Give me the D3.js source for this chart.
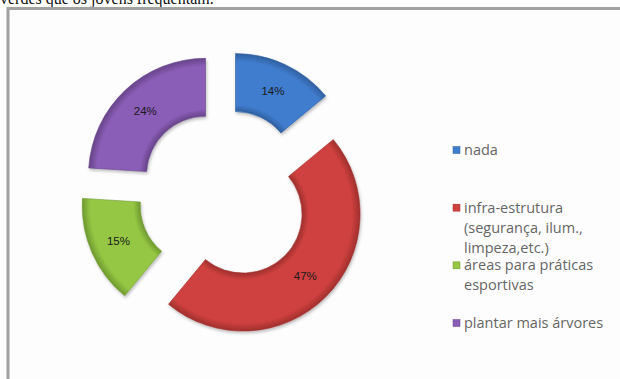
<!DOCTYPE html>
<html>
<head>
<meta charset="utf-8">
<script src="https://cdn.jsdelivr.net/npm/d3@7"></script>
<style>
  body { margin: 0; background: #fff; }
  svg { display: block; }
</style>
</head>
<body>
<script>
// dados do grafico
var categories = ["nada", "infra-estrutura (segurança, ilum., limpeza,etc.)", "áreas para práticas esportivas", "plantar mais árvores"];
var values = [14, 47, 15, 24];
var legendLines = [
    ["nada"],
    ["infra-estrutura", "(segurança, ilum.,", "limpeza,etc.)"],
    ["áreas para práticas", "esportivas"],
    ["plantar mais árvores"]
];
var colors = ["#417dcf", "#cf413f", "#95c744", "#8a5db6"];
var darks = ["#2f5f9f", "#a02f2d", "#6f9930", "#674489"];

var width = 620, height = 379;
var cx = 224, cy = 195, outerR = 117, innerR = 59, explode = 27;

var svg = d3.select("body").append("svg")
    .attr("width", width)
    .attr("height", height);

// texto cortado do documento, em cima
svg.append("text")
    .attr("x", 0)
    .attr("y", 4)
    .style("font-family", "'Liberation Serif', serif")
    .style("font-size", "16px")
    .attr("fill", "#111")
    .text("verdes que os jovens frequentam.");

// moldura do grafico
svg.append("rect")
    .attr("x", 8)
    .attr("y", 8.5)
    .attr("width", 640)
    .attr("height", 400)
    .attr("fill", "#fdfdfd")
    .attr("stroke", "#a2a2a2")
    .attr("stroke-width", 3);

var defs = svg.append("defs");
var shadow = defs.append("filter").attr("id", "shadow")
    .attr("x", "-20%").attr("y", "-20%").attr("width", "140%").attr("height", "140%");
shadow.append("feDropShadow")
    .attr("dx", 1).attr("dy", 2).attr("stdDeviation", 1.5)
    .attr("flood-color", "#000").attr("flood-opacity", 0.25);

colors.forEach(function (c, i) {
    var g = defs.append("radialGradient")
        .attr("id", "grad" + i)
        .attr("gradientUnits", "userSpaceOnUse")
        .attr("cx", 0).attr("cy", 0).attr("r", outerR);
    g.append("stop").attr("offset", innerR / outerR).attr("stop-color", darks[i]);
    g.append("stop").attr("offset", innerR / outerR + 0.06).attr("stop-color", c);
    g.append("stop").attr("offset", 0.93).attr("stop-color", c);
    g.append("stop").attr("offset", 1).attr("stop-color", darks[i]);
});

var pie = d3.pie().sort(null).value(function (d) { return d; });
var arc = d3.arc().innerRadius(innerR).outerRadius(outerR);

var slices = svg.append("g")
    .attr("transform", "translate(" + cx + "," + cy + ")")
    .selectAll("g")
    .data(pie(values))
    .enter()
    .append("g")
    .attr("transform", function (d) {
        var a = (d.startAngle + d.endAngle) / 2;
        return "translate(" + (Math.sin(a) * explode) + "," + (-Math.cos(a) * explode) + ")";
    });

slices.append("path")
    .attr("d", arc)
    .attr("fill", function (d, i) { return "url(#grad" + i + ")"; })
    .attr("stroke", function (d, i) { return darks[i]; })
    .attr("stroke-width", 0.6)
    .attr("filter", "url(#shadow)");

slices.append("text")
    .attr("transform", function (d) { return "translate(" + arc.centroid(d) + ")"; })
    .attr("text-anchor", "middle")
    .attr("dy", "0.35em")
    .style("font-family", "'Liberation Sans', sans-serif")
    .style("font-size", "11.5px")
    .attr("fill", "#1a1a1a")
    .text(function (d) { return d.value + "%"; });

// legenda
var ly = d3.scalePoint().domain(categories).range([150, 323]);

var legend = svg.append("g").selectAll("g")
    .data(categories)
    .enter()
    .append("g")
    .attr("transform", function (d) { return "translate(453," + ly(d) + ")"; });

legend.append("rect")
    .attr("x", 0)
    .attr("y", -3.5)
    .attr("width", 7)
    .attr("height", 7)
    .attr("fill", function (d, i) { return colors[i]; })
    .attr("stroke", function (d, i) { return darks[i]; })
    .attr("stroke-width", 0.5);

legend.append("text")
    .style("font-family", "'Open Sans', sans-serif")
    .style("font-size", "14.5px")
    .attr("fill", "#666")
    .selectAll("tspan")
    .data(function (d, i) { return legendLines[i]; })
    .enter()
    .append("tspan")
    .attr("x", 11)
    .attr("y", function (d, j) { return j * 20; })
    .attr("dy", "0.35em")
    .text(function (d) { return d; });
</script>
</body>
</html>
